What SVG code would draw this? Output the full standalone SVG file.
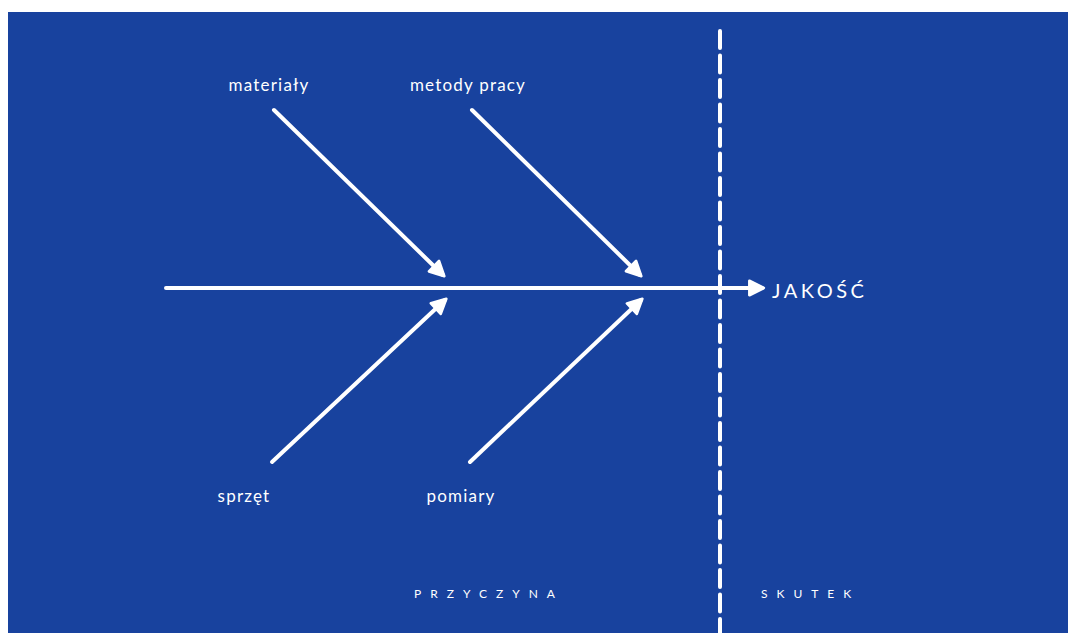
<svg xmlns="http://www.w3.org/2000/svg" width="1068" height="633" viewBox="0 0 1068 633">
<style>
.ln{stroke:#fff;stroke-width:4;stroke-linecap:round;fill:none}
.lbl{font-family:Lato,"Open Sans",sans-serif;fill:#fff;font-size:17px;letter-spacing:1.2px;text-anchor:middle}
.sec{font-family:Lato,"Open Sans",sans-serif;fill:#fff;font-size:12px;letter-spacing:9px}
</style>
<defs>
<marker id="ah" viewBox="0 0 10 10" refX="8" refY="5" markerWidth="4.5" markerHeight="4.5" orient="auto" markerUnits="strokeWidth">
<path d="M1,1 L9,5 L1,9 Z" fill="#fff" stroke="#fff" stroke-width="1.5" stroke-linejoin="round"/>
</marker>
</defs>
<rect x="0" y="0" width="1068" height="633" fill="#fff"/>
<rect x="8" y="12" width="1060" height="621" fill="#18429E"/>
<g id="connectors">
<line class="ln" x1="720" y1="31" x2="720" y2="633" stroke-dasharray="17 7.5" stroke-linecap="round"/>
<line class="ln" x1="166" y1="288" x2="762" y2="288" marker-end="url(#ah)"/>
<line class="ln" x1="274" y1="110" x2="443" y2="275" marker-end="url(#ah)"/>
<line class="ln" x1="472" y1="110" x2="640" y2="275" marker-end="url(#ah)"/>
<line class="ln" x1="272" y1="462" x2="445" y2="300" marker-end="url(#ah)"/>
<line class="ln" x1="470" y1="462" x2="641" y2="300" marker-end="url(#ah)"/>
</g>
<g id="materialy"><text class="lbl" x="269" y="91">materiały</text></g>
<g id="metody"><text class="lbl" x="468" y="91">metody pracy</text></g>
<g id="sprzet"><text class="lbl" x="244" y="502">sprzęt</text></g>
<g id="pomiary"><text class="lbl" x="461" y="502">pomiary</text></g>
<g id="jakosc"><text x="772" y="298" font-family="Lato,'Open Sans',sans-serif" font-size="20" fill="#fff" letter-spacing="3.5">JAKOŚĆ</text></g>
<g id="przyczyna"><text class="sec" x="414" y="598">PRZYCZYNA</text></g>
<g id="skutek"><text class="sec" x="761" y="598" letter-spacing="8">SKUTEK</text></g>
</svg>
